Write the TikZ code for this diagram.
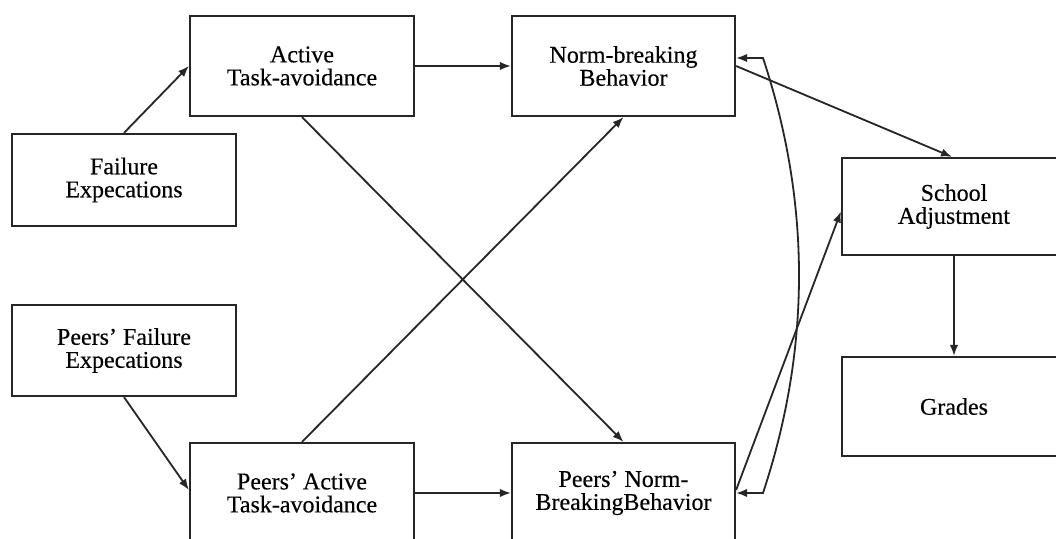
\documentclass[tikz,border=0pt]{standalone}
\usepackage{fontspec}
\setmainfont{Liberation Serif}
\newfontfamily\boxfont[FakeBold=0.3,Ligatures=TeX]{Liberation Serif}
\usetikzlibrary{arrows.meta}
\begin{document}
\begin{tikzpicture}[x=0.5pt,y=-0.5pt,
  box/.style={draw=black!85, line width=1.1pt, inner sep=0pt, align=center,
    font=\boxfont\fontsize{12pt}{11.5pt}\selectfont, text=black},
  conn/.style={draw=black!85, line width=0.9pt, -{Latex[length=5.5pt,width=4.2pt]}},
  bconn/.style={draw=black!85, line width=0.9pt, {Latex[length=5.5pt,width=4.2pt]}-{Latex[length=5.5pt,width=4.2pt]}}]
\useasboundingbox (0,0) rectangle (1056,539);
\fill[white] (0,0) rectangle (1056,539);
\clip (0,0) rectangle (1056,539);
\node[box, minimum width=112pt, minimum height=46pt] (fail) at (124,180) {Failure\\Expecations};
\node[box, minimum width=112pt, minimum height=45.5pt] (pfail) at (124,350.5) {Peers’ Failure\\Expecations};
\node[box, minimum width=112pt, minimum height=50pt] (active) at (302,66) {Active\\Task-avoidance};
\node[box, minimum width=112pt, minimum height=50pt] (pactive) at (302,493) {Peers’ Active\\Task-avoidance};
\node[box, minimum width=111.5pt, minimum height=50pt] (norm) at (623.5,66) {Norm-breaking\\Behavior};
\node[box, minimum width=111.5pt, minimum height=50pt] (pnorm) at (623.5,493) {Peers’ Norm-\\BreakingBehavior};
\node[box, minimum width=112pt, minimum height=48.5pt] (school) at (954,206.5) {School\\Adjustment};
\node[box, minimum width=112pt, minimum height=49.5pt] (grades) at (954,406.5) {Grades};
\coordinate (bowtop) at (763,58);
\coordinate (bowbot) at (763,493);
\draw[conn] (fail.north) -- (active.west);
\draw[conn] (pfail.south) -- ([yshift=1.5pt]pactive.west);
\draw[conn] (active.east) -- (norm.west);
\draw[conn] (pactive.east) -- (pnorm.west);
\draw[conn] (active.south) -- (pnorm.north);
\draw[conn] (pactive.north) -- (norm.south);
\draw[conn] (norm.east) -- ([xshift=-1pt]school.north);
\draw[conn] ([yshift=1.5pt]pnorm.east) -- ([yshift=-2.5pt]school.west);
\draw[conn] (school.south) -- (grades.north);
\draw[bconn] ([yshift=4pt]norm.east) -- (bowtop) .. controls (811,203) and (811,348) .. (bowbot) -- (pnorm.east);
\end{tikzpicture}
\end{document}
